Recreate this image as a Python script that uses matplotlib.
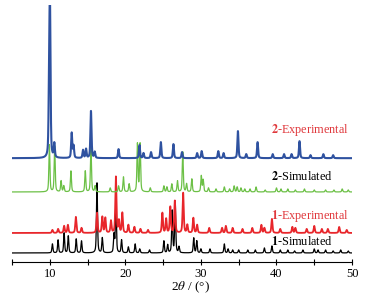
import numpy as np
import matplotlib
matplotlib.use("Agg")
import matplotlib.pyplot as plt

plt.rcParams['font.family'] = ['Liberation Serif', 'DejaVu Serif']
plt.rcParams['mathtext.fontset'] = 'stix'

# peak positions (2theta, deg) and heights (arbitrary, ~pixels)
sim1_pos = [10.35, 11.1, 11.9, 12.45, 13.5, 14.2, 16.25, 16.95, 18.5, 18.75, 19.5, 20.4,
            21.3, 21.9, 23.2, 25.1, 25.6, 26.2, 26.6, 27.1, 29.05, 29.45, 30.0, 31.2,
            33.1, 33.6, 34.2, 35.0, 36.2, 37.2, 38.4, 39.4, 40.5, 41.5, 42.4, 43.5,
            45.0, 45.5, 46.5, 47.5, 48.5, 49.5]
sim1_h = [9, 13, 20, 17, 14, 12, 70, 15, 18, 50, 13, 6,
          9, 4, 3, 12, 8, 42, 51, 6, 15, 12, 4, 4,
          9, 4, 3, 3, 3, 3, 5, 7, 3, 3, 2, 3,
          4, 3, 3, 2, 3, 2]

exp1_pos = [10.35, 11.1, 11.9, 12.4, 13.45, 14.2, 16.25, 16.95, 17.35, 18.1, 18.75, 19.15,
            19.6, 20.4, 21.2, 22.0, 23.0, 24.9, 25.4, 25.95, 26.55, 27.65, 28.2, 29.0,
            29.5, 31.1, 32.8, 33.3, 34.2, 35.5, 36.8, 38.0, 38.4, 39.4, 40.5, 42.1,
            42.5, 44.0, 45.0, 46.0, 46.8, 48.3, 49.3]
exp1_h = [3, 4, 7, 8, 16, 5, 20, 16, 15, 12, 56, 12,
          20, 8, 6, 4, 3, 20, 14, 26, 32, 40, 8, 15,
          8, 5, 5, 7, 5, 4, 5, 8, 5, 14, 4, 6,
          5, 4, 7, 4, 4, 6, 3]

sim2_pos = [9.95, 10.65, 11.5, 11.85, 12.8, 14.7, 15.45, 16.0, 18.0, 19.1, 19.75, 20.5,
            21.6, 21.95, 23.3, 25.1, 25.5, 26.15, 26.9, 27.6, 28.1, 28.8, 30.05, 30.3,
            31.0, 32.0, 33.1, 33.8, 34.4, 34.8, 35.3, 35.8, 36.5, 37.3, 38.5, 40.0,
            40.6, 41.5, 42.5, 43.7, 45.0, 46.5, 47.6, 48.7, 49.5]
sim2_h = [47, 46, 11, 6, 21, 21, 45, 6, 4, 6, 15, 8,
          48, 48, 4, 6, 5, 8, 11, 40, 8, 13, 16, 12,
          4, 3, 5, 3, 6, 5, 4, 3, 3, 5, 2, 4,
          3, 3, 2, 3, 2, 2, 2, 3, 2]

exp2_pos = [9.92, 10.03, 10.6, 12.9, 13.15, 14.4, 14.8, 15.45, 15.95, 19.1, 21.87, 22.4,
            23.4, 24.7, 26.36, 27.5, 29.5, 30.1, 32.3, 33.0, 34.9, 36.0, 37.5, 39.5,
            41.0, 42.0, 43.05, 44.5, 46.2, 47.5]
exp2_h = [70, 138, 14, 25, 12, 8, 9, 47, 6, 9, 13, 5,
          6, 16, 14, 6, 5, 7, 7, 5, 27, 4, 16, 4,
          4, 4, 17, 3, 4, 3]


def pattern(x, pos, h, fwhm):
    g = fwhm / 2
    y = np.zeros_like(x)
    for p, a in zip(pos, h):
        y += a * (0.5 * g**2 / ((x - p)**2 + g**2) + 0.5 * np.exp(-np.log(2) * ((x - p) / g)**2))
    return y


def main():
    tt = np.linspace(5, 50, 9001)
    fig = plt.figure(figsize=(3.68, 2.95), dpi=100)
    ax = fig.add_axes([0.0326, 0.113, 0.924, 0.87])

    ax.plot(tt, 8.7 + pattern(tt, sim1_pos, sim1_h, 0.16), color='black', lw=0.9)
    ax.plot(tt, 28.7 + pattern(tt, exp1_pos, exp1_h, 0.18), color='#e8262b', lw=1.3)
    ax.plot(tt, 69.7 + pattern(tt, sim2_pos, sim2_h, 0.16), color='#6cc046', lw=0.9)
    ax.plot(tt, 103.5 + pattern(tt, exp2_pos, exp2_h, 0.17), color='#2f52a0', lw=1.5)

    red = '#e0383c'
    ax.text(49.63, 131.7, r'$\mathbf{2}$-Experimental', color=red, ha='right', va='center', fontsize=8.8)
    ax.text(47.5, 84.7, r'$\mathbf{2}$-Simulated', color='black', ha='right', va='center', fontsize=8.8)
    ax.text(49.63, 45.7, r'$\mathbf{1}$-Experimental', color=red, ha='right', va='center', fontsize=8.8)
    ax.text(47.5, 19.7, r'$\mathbf{1}$-Simulated', color='black', ha='right', va='center', fontsize=8.8)

    ax.set_xlim(5, 50)
    ax.set_ylim(0, 256.65)
    for s in ['left', 'right', 'top']:
        ax.spines[s].set_visible(False)
    ax.spines['bottom'].set_linewidth(0.8)
    ax.set_yticks([])
    ax.set_xticks([10, 20, 30, 40, 50])
    ax.set_xticks(np.arange(5, 51, 5), minor=True)
    ax.tick_params(axis='x', which='major', direction='inout', length=5, width=0.8, labelsize=9, pad=2)
    ax.tick_params(axis='x', which='minor', direction='inout', length=4, width=0.8)
    fig.text(190 / 368, 1 - 287 / 295, r'2$\theta$ / (°)', ha='center', va='center', fontsize=9.5)

    fig.savefig('out.png', dpi=100)


if __name__ == '__main__':
    main()
